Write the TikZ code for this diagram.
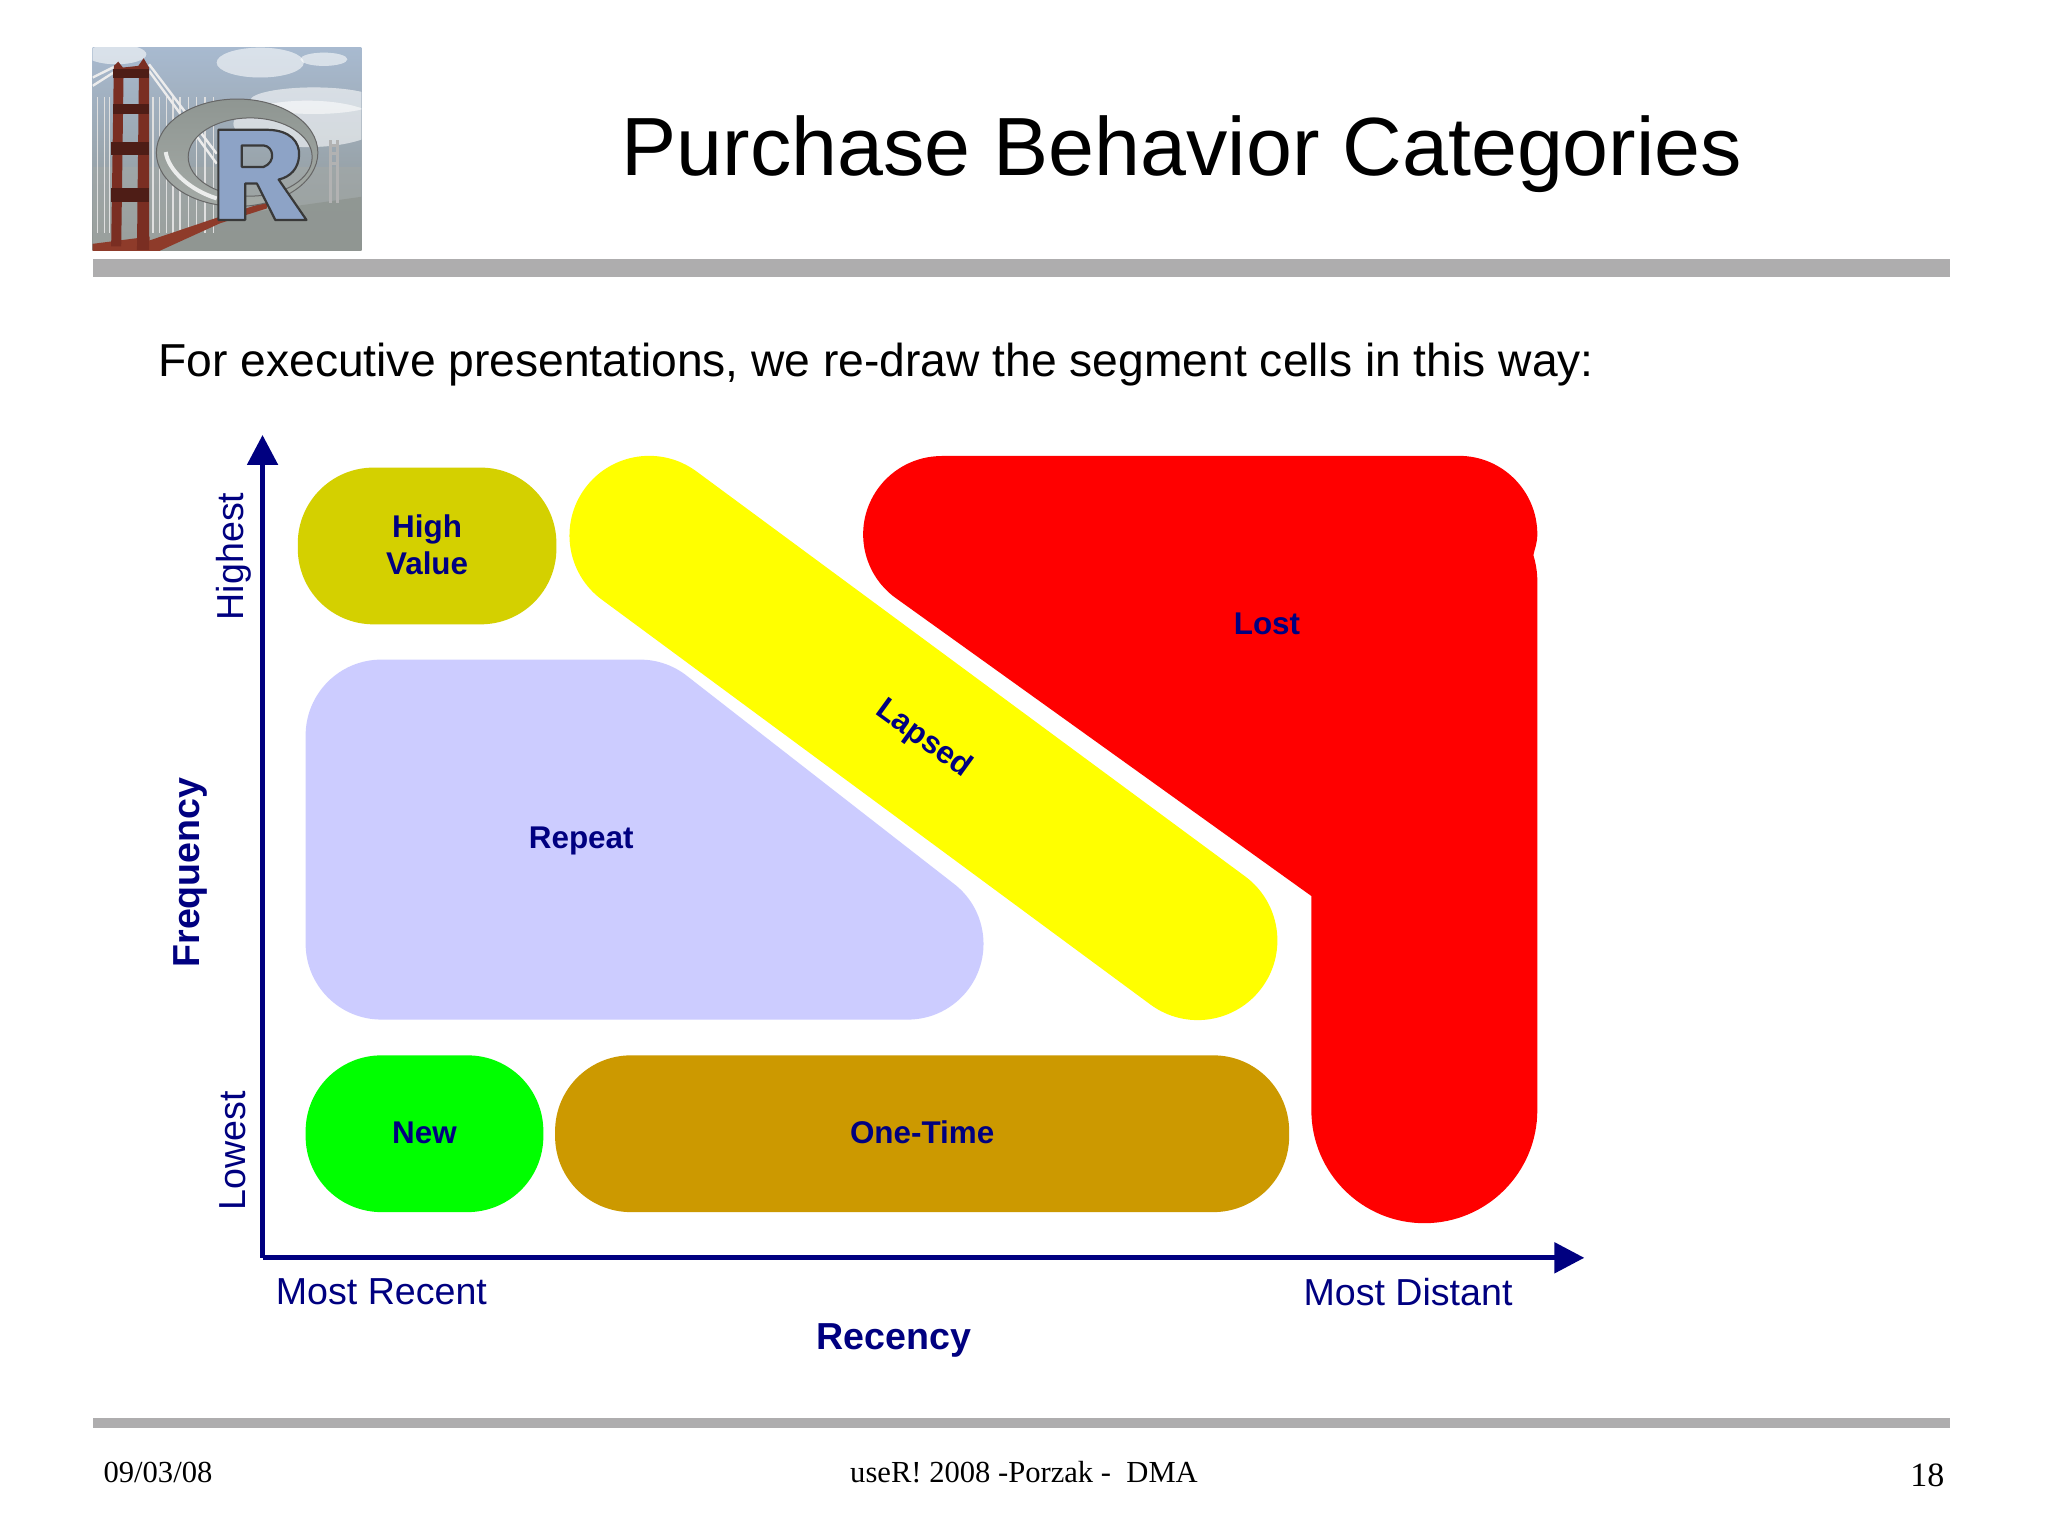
\documentclass[tikz,border=0pt]{standalone}
\usepackage{fontspec}
\setmainfont{Liberation Sans}
\newfontfamily\footfont{Liberation Serif}
\usetikzlibrary{arrows.meta}
\def\du{0.65306pt}
\definecolor{ruleg}{HTML}{AEADAE}
\definecolor{navyt}{HTML}{000080}
\definecolor{hval}{HTML}{D4D000}
\definecolor{rept}{HTML}{CCCCFF}
\definecolor{onet}{HTML}{CC9900}
\definecolor{yell}{HTML}{FFFF00}
\definecolor{redd}{HTML}{FF0000}
\definecolor{grn}{HTML}{00FF00}
\definecolor{tower}{HTML}{7A2E22}
\definecolor{towerd}{HTML}{4E1D16}
\definecolor{deck}{HTML}{8E3B2A}
\definecolor{rblue}{HTML}{8DA3C6}
\definecolor{skyt}{HTML}{A8BAD0}
\definecolor{skym}{HTML}{DCDCDA}
\definecolor{skyb}{HTML}{8E9490}
\definecolor{ringa}{HTML}{8F9692}
\definecolor{ringb}{HTML}{D0D4D2}
\definecolor{ringc}{HTML}{A4AAA6}
\tikzset{
  seg/.style={draw=none,rounded corners=58*\du,inner sep=0pt,align=center,text=navyt,font=\fontsize{15.7}{19}\selectfont\bfseries},
  lab/.style={text=navyt,font=\fontsize{15.7}{19}\selectfont\bfseries,inner sep=0pt,align=center},
  axlab/.style={text=navyt,font=\fontsize{18.8}{22}\selectfont,inner sep=0pt},
  axtitle/.style={text=navyt,font=\fontsize{18.8}{22}\selectfont\bfseries,inner sep=0pt},
  axisline/.style={draw=navyt,line width=4*\du,-{Triangle[length=23*\du,width=23*\du]}},
  foot/.style={inner sep=0pt,font=\footfont\fontsize{15.3}{18}\selectfont},
  rulebar/.style={fill=ruleg,draw=none}
}
\begin{document}
\begin{tikzpicture}[x=0.65306pt,y=-0.65306pt]
\useasboundingbox (0,0) rectangle (1568,1175.2);
\fill[white] (0,0) rectangle (1568,1175.2);
% logo (zoom coordinates of the reference)
\begin{scope}[shift={(45.35,16.2)},xscale=0.2565,yscale=0.2537]
\clip (100,78) rectangle (902,693);
\shade[top color=skyt,middle color=skym,bottom color=skyb] (100,78) rectangle (902,693);
\foreach \op in {.25,.25,.25}{
\fill[white,opacity=\op] (600,125) ellipse (130 and 45);
\fill[white,opacity=\op] (790,115) ellipse (70 and 20);
\fill[white,opacity=\op] (760,240) ellipse (190 and 40);
\fill[white,opacity=\op] (740,310) ellipse (220 and 70);
\fill[white,opacity=\op] (170,100) ellipse (90 and 30);
}
\fill[skyb!80!white,opacity=.55] (100,440) rectangle (902,693);
\fill[skyb,opacity=.8] (270,693) -- (480,590) -- (902,530) -- (902,693) -- cycle;
\foreach \xx in {115,135,150,280,300,320,340,360,385,410,435,460}{\draw[white!75!gray,line width=.7] (\xx,230) -- (\xx,640);}
\draw[white!85!gray,line width=1.2] (100,170) -- (170,135);
\draw[white!85!gray,line width=1.2] (100,195) -- (170,150);
\draw[white!85!gray,line width=1.2] (268,130) -- (470,400);
\draw[white!85!gray,line width=1.2] (268,150) -- (470,430);
\fill[deck] (260,665) -- (480,590) -- (620,545) -- (620,565) -- (480,610) -- (300,693) -- (260,693) -- cycle;
\fill[deck] (100,672) -- (270,650) -- (270,693) -- (100,693) -- cycle;
% tower
\fill[tower] (163,135) -- (176,122) -- (190,140) -- (236,135) -- (252,112) -- (268,140) -- (268,690) -- (232,690) -- (238,150) -- (192,160) -- (185,680) -- (155,680) -- cycle;
\fill[towerd] (160,172) rectangle (268,145);
\fill[towerd] (160,280) rectangle (268,250);
\fill[towerd] (155,405) rectangle (268,365);
\fill[towerd] (155,545) rectangle (268,505);
% far tower
\draw[gray!60,line width=1.5] (810,360) -- (810,550) (832,360) -- (832,550);
\foreach \yy in {375,400,430}{\draw[gray!60,line width=1.5] (810,\yy) -- (832,\yy);}
% ring
\shade[even odd rule,top color=ringa,middle color=ringb,bottom color=ringc] (531,397) ellipse (241 and 162) (570,410) ellipse (185 and 118);
\draw[gray!80!black,line width=.5] (531,397) ellipse (241 and 162);
\draw[gray!80!black,line width=.5] (570,410) ellipse (185 and 118);
\draw[white,line width=2,opacity=.8] (318,395) .. controls (325,450) and (390,510) .. (470,535);
% R
\fill[rblue,draw=gray!45!black,line width=1.1,even odd rule,line join=round]
 (475,328) -- (625,328) .. controls (690,330) and (718,365) .. (716,405) .. controls (714,445) and (690,470) .. (655,478)
 -- (738,600) -- (645,600) -- (590,490) -- (555,490) -- (555,600) -- (475,600) -- cycle
 (545,375) -- (610,375) .. controls (640,378) and (648,425) .. (610,440) -- (545,440) -- cycle;
\end{scope}
% rules
\fill[rulebar] (71,198) rectangle (1493,212);
\fill[rulebar] (71,1086) rectangle (1493,1093);
% header text
\node[inner sep=0pt,anchor=base] (title) at (905,134) {\fontsize{41.3}{48}\selectfont Purchase Behavior Categories};
\node[inner sep=0pt,anchor=base west] (sub) at (121,288.5) {\fontsize{23.1}{28}\selectfont For executive presentations, we re-draw the segment cells in this way:};
% segments
\fill[rept] (234,563) arc[start angle=180,end angle=270,radius=58] -- (490,505) arc[start angle=-90,end angle=-53.5,radius=58] -- (729.5,676) arc[start angle=-53.5,end angle=90,radius=58] -- (292,780.6) arc[start angle=90,end angle=180,radius=58] -- cycle;
\coordinate (lapA) at (497,410);
\coordinate (lapB) at (917,720);
\draw[yell,line width=122*\du,line cap=round] (lapA) -- (lapB);
\fill[redd] (721,349) -- (1117,349) arc[start angle=-90,end angle=0,radius=60] .. controls (1177,416) and (1175,420) .. (1174,425) .. controls (1176,432) and (1177,438) .. (1177,445) -- (1177,850) arc[start angle=0,end angle=180,radius=86.5] -- (1004,686) -- (686,458) arc[start angle=125.5,end angle=270,radius=60] -- cycle;
\node[seg,fill=hval,minimum width=198*\du,minimum height=120*\du] (hv) at (327,418) {\raisebox{1.2pt}{\shortstack{High\\[1pt]Value}}};
\node[seg,fill=grn,minimum width=182*\du,minimum height=120*\du] (new) at (325,868) {\raisebox{1.2pt}{New}};
\node[seg,fill=onet,minimum width=562*\du,minimum height=120*\du] (ot) at (706,868) {\raisebox{1.2pt}{One-Time}};
\node[lab] (rp) at (445,644) {Repeat};
\node[lab,rotate=-36] (lp) at (707,566) {Lapsed};
\node[lab] (ls) at (970,478) {Lost};
% axes
\coordinate (orig) at (201,963);
\coordinate (ytip) at (201,333);
\coordinate (xtip) at (1213,963);
\draw[axisline] (orig) -- (ytip);
\draw[axisline] (orig) -- (xtip);
\node[axlab,rotate=90] (hi) at (179,426) {Highest};
\node[axlab,rotate=90] (lo) at (178,881) {Lowest};
\node[axtitle,rotate=90] (fr) at (146,668) {Frequency};
\node[axlab] (mr) at (292,989) {Most Recent};
\node[axlab] (md) at (1078,989) {Most Distant};
\node[axtitle] (rc) at (684.5,1026) {Recency};
% footer
\node[foot,anchor=base west] (d) at (79,1135) {09/03/08};
\node[foot,anchor=base] (c) at (784,1135) {useR! 2008 -Porzak -\ \ DMA};
\node[foot,anchor=base east,font=\footfont\fontsize{17}{20}\selectfont] (n) at (1489,1138) {18};
\end{tikzpicture}
\end{document}
